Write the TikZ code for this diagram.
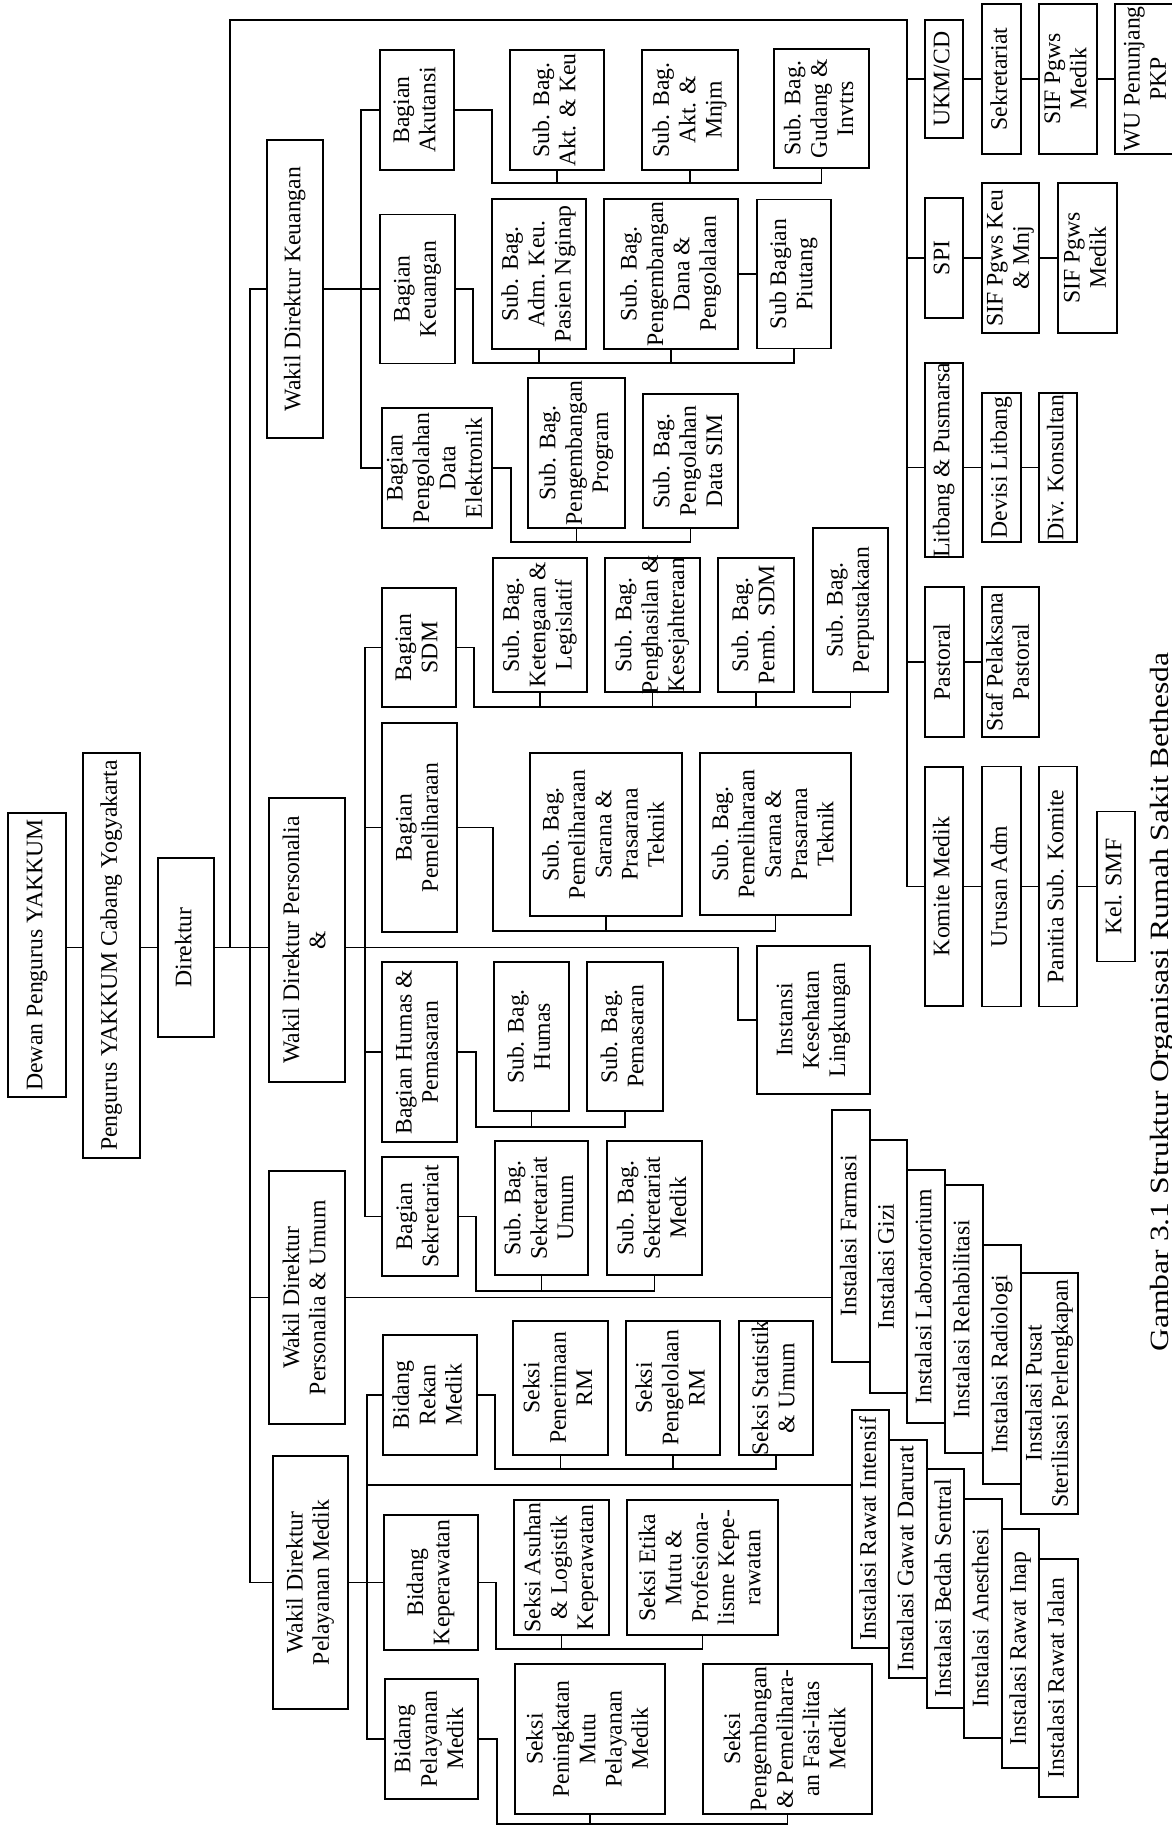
\documentclass[tikz,border=0pt]{standalone}
\usepackage{fontspec}
\setmainfont{Liberation Serif}
\usepackage{graphicx}
\newcommand{\boxtext}[1]{\makebox[0pt]{\begin{tabular}{@{}c@{}}#1\end{tabular}}}

\begin{document}
\begin{tikzpicture}[
  x=0.02cm, y=-0.02cm,
  unit/.style={
    draw=black,
    line width=1.1pt,
    rotate=90,
    inner sep=0pt,
    font=\fontsize{13.5}{15}\selectfont
  },
  boxsize/.style 2 args={
    minimum height=#1*0.02cm,
    minimum width=#2*0.02cm
  },
  wire/.style={line width=1pt}
]
\useasboundingbox (0,0) rectangle (1171,1828);

% -------- Board and director --------
\node[unit, boxsize={58}{284}] (dewan) at (37,955) {\boxtext{Dewan Pengurus YAKKUM}};
\node[unit, boxsize={57}{405}] (peng) at (111.5,955.5) {\boxtext{Pengurus YAKKUM Cabang Yogyakarta}};
\node[unit, boxsize={56}{179}] (dir) at (186,947.5) {\boxtext{Direktur}};

% -------- Wakil Direktur --------
\node[unit, boxsize={56}{298}] (wdk) at (295,289) {\boxtext{Wakil Direktur Keuangan}};
\node[unit, boxsize={76}{284}] (wdp) at (307,940) {\boxtext{Wakil Direktur Personalia\\\&}};
\node[unit, boxsize={76}{253}] (wdu) at (307,1297.5) {\boxtext{Wakil Direktur\\Personalia \& Umum}};
\node[unit, boxsize={75}{253}] (wdm) at (310.5,1582.5) {\boxtext{Wakil Direktur\\Pelayanan Medik}};

% -------- Keuangan --------
\node[unit, boxsize={74}{120}] (akut) at (417,110) {\boxtext{Bagian\\Akutansi}};
\node[unit, boxsize={75}{149}] (bkeu) at (417.5,289) {\boxtext{Bagian\\Keuangan}};
\node[unit, boxsize={110}{120}] (pde) at (437,468) {\boxtext{Bagian\\Pengolahan\\Data\\Elektronik}};
\node[unit, boxsize={94}{120}] (sakk) at (557,110) {\boxtext{Sub. Bag.\\Akt. \& Keu}};
\node[unit, boxsize={96}{120}] (sakm) at (690,110) {\boxtext{Sub. Bag.\\Akt. \&\\Mnjm}};
\node[unit, boxsize={95}{119}] (sgud) at (821.5,108.5) {\boxtext{Sub. Bag.\\Gudang \&\\Invtrs}};
\node[unit, boxsize={94}{150}] (sadm) at (539,274) {\boxtext{Sub. Bag.\\Adm. Keu.\\Pasien Nginap}};
\node[unit, boxsize={134}{150}] (speng) at (671,274) {\boxtext{Sub. Bag.\\Pengembangan\\Dana \&\\Pengolalaan}};
\node[unit, boxsize={74}{149}] (spiu) at (794,274) {\boxtext{Sub Bagian\\Piutang}};
\node[unit, boxsize={97}{150}] (sprog) at (576.5,453) {\boxtext{Sub. Bag.\\Pengembangan\\Program}};
\node[unit, boxsize={95}{134}] (ssim) at (690.5,461) {\boxtext{Sub. Bag.\\Pengolahan\\Data SIM}};

% -------- Personalia --------
\node[unit, boxsize={74}{119}] (bsdm) at (419,647.5) {\boxtext{Bagian\\SDM}};
\node[unit, boxsize={75}{209}] (bpem) at (419.5,827.5) {\boxtext{Bagian\\Pemeliharaan}};
\node[unit, boxsize={75}{180}] (bhum) at (419.5,1052) {\boxtext{Bagian Humas \&\\Pemasaran}};
\node[unit, boxsize={76}{119}] (bsek) at (420,1216.5) {\boxtext{Bagian\\Sekretariat}};
\node[unit, boxsize={94}{134}] (sket) at (540,625) {\boxtext{Sub. Bag.\\Ketengaan \&\\Legislatif}};
\node[unit, boxsize={95}{134}] (spen) at (652.5,625) {\boxtext{Sub. Bag.\\Penghasilan \&\\Kesejahteraan}};
\node[unit, boxsize={76}{134}] (spem) at (756,625) {\boxtext{Sub. Bag.\\Pemb. SDM}};
\node[unit, boxsize={75}{164}] (sper) at (850.5,610) {\boxtext{Sub. Bag.\\Perpustakaan}};
\node[unit, boxsize={152}{163}] (spsa) at (606,834.5) {\boxtext{Sub. Bag.\\Pemeliharaan\\Sarana \&\\Prasarana\\Teknik}};
\node[unit, boxsize={151}{162}] (spsb) at (775.5,834) {\boxtext{Sub. Bag.\\Pemeliharaan\\Sarana \&\\Prasarana\\Teknik}};
\node[unit, boxsize={75}{149}] (shum) at (531.5,1036.5) {\boxtext{Sub. Bag.\\Humas}};
\node[unit, boxsize={76}{149}] (spms) at (625,1036.5) {\boxtext{Sub. Bag.\\Pemasaran}};
\node[unit, boxsize={93}{134}] (ssu) at (541.5,1208) {\boxtext{Sub. Bag.\\Sekretariat\\Umum}};
\node[unit, boxsize={95}{134}] (ssm) at (654.5,1208) {\boxtext{Sub. Bag.\\Sekretariat\\Medik}};
\node[unit, boxsize={113}{148}] (ikl) at (813.5,1020) {\boxtext{Instansi\\Kesehatan\\Lingkungan}};

% -------- Pelayanan Medik --------
\node[unit, boxsize={94}{120}] (brm) at (430,1395) {\boxtext{Bidang\\Rekan\\Medik}};
\node[unit, boxsize={95}{134}] (spr) at (560.5,1388) {\boxtext{Seksi\\Penerimaan\\RM}};
\node[unit, boxsize={94}{134}] (spl) at (673,1388) {\boxtext{Seksi\\Pengelolaan\\RM}};
\node[unit, boxsize={74}{134}] (sst) at (776,1388) {\boxtext{Seksi Statistik\\\& Umum}};
\node[unit, boxsize={94}{135}] (bkp) at (431,1582.5) {\boxtext{Bidang\\Keperawatan}};
\node[unit, boxsize={95}{135}] (sal) at (561.5,1567.5) {\boxtext{Seksi Asuhan\\\& Logistik\\Keperawatan}};
\node[unit, boxsize={151}{135}] (setk) at (702.5,1567.5) {\boxtext{Seksi Etika\\Mutu \&\\Profesiona-\\lisme Kepe-\\rawatan}};
\node[unit, boxsize={93}{120}] (bpm) at (431.5,1739) {\boxtext{Bidang\\Pelayanan\\Medik}};
\node[unit, boxsize={150}{150}] (spm) at (590,1739) {\boxtext{Seksi\\Peningkatan\\Mutu\\Pelayanan\\Medik}};
\node[unit, boxsize={169}{150}] (spf) at (787.5,1739) {\boxtext{Seksi\\Pengembangan\\\& Pemelihara-\\an Fasi-litas\\Medik}};

% -------- Instalasi (penunjang) --------
\node[unit, boxsize={38}{252}] (ifar) at (851,1236) {\boxtext{Instalasi Farmasi}};
\node[unit, boxsize={37}{253}] (igiz) at (888.5,1266.5) {\boxtext{Instalasi Gizi}};
\node[unit, boxsize={38}{253}] (ilab) at (926,1296.5) {\boxtext{Instalasi Laboratorium}};
\node[unit, boxsize={38}{268}] (ireh) at (964,1319) {\boxtext{Instalasi Rehabilitasi}};
\node[unit, boxsize={38}{239}] (irad) at (1002,1364.5) {\boxtext{Instalasi Radiologi}};
\node[unit, boxsize={57}{241}] (ipus) at (1049.5,1393.5) {\boxtext{Instalasi Pusat\\Sterilisasi Perlengkapan}};

% -------- Instalasi (pelayanan) --------
\node[unit, boxsize={37}{238}] (iri) at (870.5,1529) {\boxtext{Instalasi Rawat Intensif}};
\node[unit, boxsize={38}{238}] (igd) at (908,1559) {\boxtext{Instalasi Gawat Darurat}};
\node[unit, boxsize={37}{239}] (ibs) at (945.5,1588.5) {\boxtext{Instalasi Bedah Sentral}};
\node[unit, boxsize={38}{239}] (ian) at (983,1618.5) {\boxtext{Instalasi Anesthesi}};
\node[unit, boxsize={37}{239}] (irin) at (1020.5,1648.5) {\boxtext{Instalasi Rawat Inap}};
\node[unit, boxsize={39}{238}] (irj) at (1058.5,1678) {\boxtext{Instalasi Rawat Jalan}};

% -------- Staff units --------
\node[unit, boxsize={38}{118}] (ukm) at (944,79) {\boxtext{UKM/CD}};
\node[unit, boxsize={39}{150}] (sekr) at (1001.5,79) {\boxtext{Sekretariat}};
\node[unit, boxsize={58}{150}] (sifa) at (1068,79) {\boxtext{SIF Pgws\\Medik}};
\node[unit, boxsize={65}{150}] (wu) at (1147.5,79) {\boxtext{WU Penunjang\\PKP}};
\node[unit, boxsize={38}{120}] (spi) at (944,258) {\boxtext{SPI}};
\node[unit, boxsize={57}{150}] (sifk) at (1010.5,258) {\boxtext{SIF Pgws Keu\\\& Mnj}};
\node[unit, boxsize={59}{150}] (sifb) at (1087.5,258) {\boxtext{SIF Pgws\\Medik}};
\node[unit, boxsize={38}{194}] (litb) at (944,460) {\boxtext{Litbang \& Pusmarsa}};
\node[unit, boxsize={39}{149}] (devl) at (1001.5,467.5) {\boxtext{Devisi Litbang}};
\node[unit, boxsize={38}{149}] (divk) at (1058,467.5) {\boxtext{Div. Konsultan}};
\node[unit, boxsize={39}{150}] (past) at (944.5,662) {\boxtext{Pastoral}};
\node[unit, boxsize={57}{150}] (stpa) at (1010.5,662) {\boxtext{Staf Pelaksana\\Pastoral}};
\node[unit, boxsize={38}{239}] (komi) at (944,886.5) {\boxtext{Komite Medik}};
\node[unit, boxsize={39}{240}] (urad) at (1001.5,886.5) {\boxtext{Urusan Adm}};
\node[unit, boxsize={38}{240}] (pask) at (1058,886.5) {\boxtext{Panitia Sub. Komite}};
\node[unit, boxsize={38}{150}] (ksmf) at (1116,886.5) {\boxtext{Kel. SMF}};

% -------- Caption --------
\node[rotate=90, inner sep=0pt, font=\fontsize{15}{18}\selectfont] (cap) at (1162,1002)
{\scalebox{1.2}[1]{Gambar 3.1 Struktur Organisasi Rumah Sakit Bethesda}};

% -------- Bus coordinates --------
\coordinate (topL) at (230,20);
\coordinate (topR) at (907,20);
\coordinate (wdB) at (250,0);
\coordinate (keuB) at (361,0);
\coordinate (perB) at (365,0);
\coordinate (medB) at (367,1485);
\coordinate (iklB) at (738,1020);
\coordinate (akB) at (492,183);
\coordinate (keB) at (473,363);
\coordinate (pdB) at (511,542);
\coordinate (sdB) at (474,707);
\coordinate (pmB) at (493,931);
\coordinate (hmB) at (476,1127);
\coordinate (skB) at (476,1291);
\coordinate (rmB) at (495,1469);
\coordinate (kpB) at (496,1649);
\coordinate (plB) at (497,1824);

% -------- Main line --------
\draw[wire] (dewan.south |- dir.center) -- (peng.north |- dir.center);
\draw[wire] (peng.south |- dir.center) -- (dir.north);
\draw[wire] (dir.south) -- (wdp.north |- dir.center);
\draw[wire] (wdp.south |- dir.center) -| (iklB) -- (ikl.north);

% -------- Staff loop --------
\draw[wire] (topL |- dir.center) -- (topL) -- (topR) |- (komi.north);
\draw[wire] (ukm.north) -- (ukm.north -| topR);
\draw[wire] (spi.north) -- (spi.north -| topR);
\draw[wire] (past.north) -- (past.north -| topR);
\draw[wire] (litb.north |- devl.center) -- (topR |- devl.center);
\draw[wire] (ukm.south) -- (sekr.north) (sekr.south) -- (sifa.north) (sifa.south) -- (wu.north);
\draw[wire] (spi.south) -- (sifk.north) (sifk.south) -- (sifb.north);
\draw[wire] (litb.south |- devl.center) -- (devl.north) (devl.south) -- (divk.north);
\draw[wire] (past.south) -- (stpa.north);
\draw[wire] (komi.south) -- (urad.north) (urad.south) -- (pask.north) (pask.south) -- (ksmf.north);

% -------- Wakil Direktur bus --------
\draw[wire] (wdk.north) -- (wdk.north -| wdB) |- (wdm.north);
\draw[wire] (wdu.north) -- (wdu.north -| wdB);

% -------- Keuangan --------
\draw[wire] (akut.north) -- (akut.north -| keuB) |- (pde.north);
\draw[wire] (wdk.south) -- (bkeu.north);
\draw[wire] (akut.south) -| (akB) -| (sgud.west);
\draw[wire] (sakk.west) -- (sakk.west |- akB);
\draw[wire] (sakm.west) -- (sakm.west |- akB);
\draw[wire] (bkeu.south) -| (keB) -| (spiu.west);
\draw[wire] (sadm.west) -- (sadm.west |- keB);
\draw[wire] (speng.west) -- (speng.west |- keB);
\draw[wire] (speng.south) -- (spiu.north);
\draw[wire] (pde.south) -| (pdB) -| (ssim.west);
\draw[wire] (sprog.west) -- (sprog.west |- pdB);

% -------- Personalia --------
\draw[wire] (bsdm.north) -- (bsdm.north -| perB) |- (bsek.north);
\draw[wire] (bpem.north) -- (bpem.north -| perB);
\draw[wire] (bhum.north) -- (bhum.north -| perB);
\draw[wire] (bsdm.south) -| (sdB) -| (sper.west);
\draw[wire] (sket.west) -- (sket.west |- sdB);
\draw[wire] (spen.west) -- (spen.west |- sdB);
\draw[wire] (spem.west) -- (spem.west |- sdB);
\draw[wire] (bpem.south) -| (pmB) -| (spsb.west);
\draw[wire] (spsa.west) -- (spsa.west |- pmB);
\draw[wire] (bhum.south) -| (hmB) -| (spms.west);
\draw[wire] (shum.west) -- (shum.west |- hmB);
\draw[wire] (bsek.south) -| (skB) -| (ssm.west);
\draw[wire] (ssu.west) -- (ssu.west |- skB);

% -------- Personalia & Umum --------
\draw[wire] (wdu.south) -- (wdu.south -| ifar.north);

% -------- Pelayanan Medik --------
\draw[wire] (brm.north) -- (brm.north -| medB) |- (bpm.north);
\draw[wire] (wdm.south) -- (bkp.north);
\draw[wire] (medB) -- (iri.north |- medB);
\draw[wire] (brm.south) -| (rmB) -| (sst.west);
\draw[wire] (spr.west) -- (spr.west |- rmB);
\draw[wire] (spl.west) -- (spl.west |- rmB);
\draw[wire] (bkp.south) -| (kpB) -| (setk.west);
\draw[wire] (sal.west) -- (sal.west |- kpB);
\draw[wire] (bpm.south) -| (plB) -| (spf.west);
\draw[wire] (spm.west) -- (spm.west |- plB);

\end{tikzpicture}
\end{document}
